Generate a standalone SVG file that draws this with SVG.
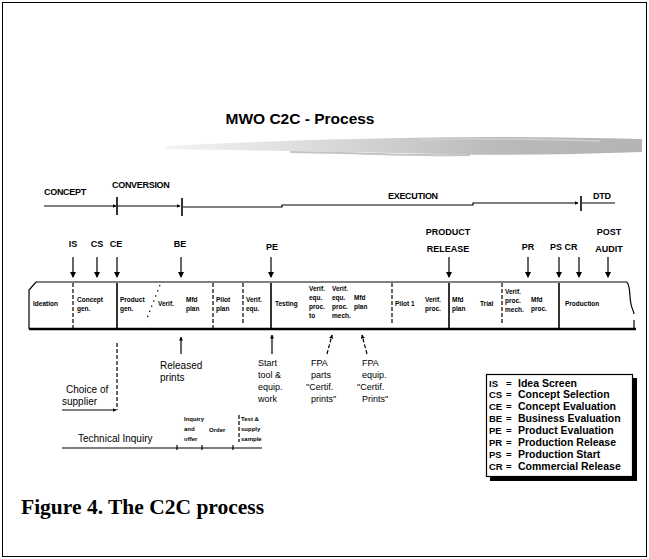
<svg xmlns="http://www.w3.org/2000/svg" width="649" height="559" viewBox="0 0 649 559">
<defs>
<marker id="ah" markerWidth="6" markerHeight="6" refX="5" refY="3" orient="auto" markerUnits="userSpaceOnUse"><path d="M0,0 L6,3 L0,6 Z" fill="#000"/></marker>
<marker id="sm" markerWidth="4" markerHeight="4" refX="3.5" refY="2" orient="auto" markerUnits="userSpaceOnUse"><path d="M0,0 L4,2 L0,4 Z" fill="#000"/></marker>
<linearGradient id="brush" x1="0" x2="1" y1="0" y2="0">
<stop offset="0" stop-color="#f4f4f4"/>
<stop offset="0.35" stop-color="#d8d8d8"/>
<stop offset="0.7" stop-color="#bababa"/>
<stop offset="1" stop-color="#b4b4b4"/>
</linearGradient>
<style>
.t{font-family:"Liberation Sans",Arial,sans-serif;fill:#000}
.ph{font-size:9px;font-weight:bold;letter-spacing:-0.3px}
.ev{font-size:9px;font-weight:bold}
.c{font-size:6.5px;font-weight:bold}
.s{font-size:6px;font-weight:bold}
.lb{font-size:10px}
.lm{font-size:9px}
.lg{font-size:10.5px;font-weight:bold}
.la{font-size:9.5px;font-weight:bold}
.ln{stroke:#000;stroke-width:1.2;fill:none}
.dash{stroke:#000;stroke-width:1.2;stroke-dasharray:4,2;fill:none}
.solid{stroke:#000;stroke-width:1.6;fill:none}
</style>
</defs>
<rect x="2.5" y="2.5" width="644" height="554" fill="#fff" stroke="#000" stroke-width="1"/>
<text class="t" x="300" y="124" font-size="15.5" font-weight="bold" text-anchor="middle">MWO C2C - Process</text>
<g id="brushstroke">
<path d="M165,146 C220,143 300,140 400,138 C480,136 560,137 642,139 L642,152 C560,155 480,156 400,153 C300,151 220,150 165,149 Z" fill="url(#brush)"/>
<path d="M290,152 C360,153 420,156 470,155" stroke="#c4c4c4" stroke-width="2" fill="none"/>
<path d="M420,140 C480,138 540,139 600,141" stroke="#cfcfcf" stroke-width="1.5" fill="none"/>
</g>
<g id="phases">
<text class="t ph" x="44" y="195">CONCEPT</text>
<text class="t ph" x="112" y="188">CONVERSION</text>
<text class="t ph" x="388" y="199">EXECUTION</text>
<text class="t ph" x="593" y="199">DTD</text>
</g>
<g id="connectors">
<line class="ln" x1="44" y1="206" x2="116" y2="206" marker-end="url(#sm)"/>
<line class="ln" x1="118" y1="206" x2="180" y2="206" marker-end="url(#sm)"/>
<polyline class="ln" points="183,207 282,207 282,205 473,205 473,203 578,203" marker-end="url(#sm)"/>
<line class="ln" x1="582" y1="203" x2="615" y2="203"/>
<line class="solid" x1="117" y1="197" x2="117" y2="215"/>
<line class="solid" x1="182" y1="198" x2="182" y2="216"/>
<line class="solid" x1="581" y1="196" x2="581" y2="211"/>
<line class="ln" x1="73" y1="257" x2="73" y2="277" marker-end="url(#ah)"/>
<line class="ln" x1="97" y1="257" x2="97" y2="277" marker-end="url(#ah)"/>
<line class="ln" x1="117" y1="257" x2="117" y2="277" marker-end="url(#ah)"/>
<line class="ln" x1="181" y1="257" x2="181" y2="277" marker-end="url(#ah)"/>
<line class="ln" x1="271" y1="257" x2="271" y2="277" marker-end="url(#ah)"/>
<line class="ln" x1="449" y1="257" x2="449" y2="277" marker-end="url(#ah)"/>
<line class="ln" x1="528" y1="257" x2="528" y2="277" marker-end="url(#ah)"/>
<line class="ln" x1="559" y1="257" x2="559" y2="277" marker-end="url(#ah)"/>
<line class="ln" x1="579" y1="257" x2="579" y2="277" marker-end="url(#ah)"/>
<line class="ln" x1="608" y1="257" x2="608" y2="277" marker-end="url(#ah)"/>
<line class="ln" x1="181" y1="354" x2="181" y2="337" marker-end="url(#sm)"/>
<line class="ln" x1="272" y1="354" x2="272" y2="335" marker-end="url(#sm)"/>
<line class="dash" x1="327" y1="354" x2="332" y2="335" marker-end="url(#sm)"/>
<line class="dash" x1="367" y1="354" x2="362" y2="335" marker-end="url(#sm)"/>
<line class="dash" x1="117" y1="343" x2="117" y2="410"/>
<line class="ln" x1="62" y1="410" x2="116" y2="410" marker-end="url(#sm)"/>
<line class="ln" x1="62" y1="448" x2="262" y2="448"/>
<line class="ln" x1="177" y1="445" x2="177" y2="450"/>
<line class="ln" x1="202" y1="445" x2="202" y2="450"/>
<line class="ln" x1="233" y1="445" x2="233" y2="450"/>
<line class="dash" x1="239" y1="415" x2="239" y2="442"/>
</g>
<g id="events">
<text class="t ev" x="73" y="247" text-anchor="middle">IS</text>
<text class="t ev" x="97" y="247" text-anchor="middle">CS</text>
<text class="t ev" x="116" y="247" text-anchor="middle">CE</text>
<text class="t ev" x="180" y="247" text-anchor="middle">BE</text>
<text class="t ev" x="272" y="250" text-anchor="middle">PE</text>
<text class="t ev" x="448" y="235" text-anchor="middle">PRODUCT</text>
<text class="t ev" x="448" y="252" text-anchor="middle">RELEASE</text>
<text class="t ev" x="528" y="250" text-anchor="middle">PR</text>
<text class="t ev" x="556" y="250" text-anchor="middle">PS</text>
<text class="t ev" x="571" y="250" text-anchor="middle">CR</text>
<text class="t ev" x="609" y="235" text-anchor="middle">POST</text>
<text class="t ev" x="609" y="252" text-anchor="middle">AUDIT</text>
</g>
<g id="processbar">
<path d="M36,282 L627,282 C633,290 630,300 633,312 L634,329 L29,329 L29,290 Z" fill="#fff" stroke="none"/>
<path d="M29,329 L29,290 L36,282 L627,282" class="ln" stroke-width="1.6"/>
<path d="M627,282 C631,288 629,296 631,304 C632,309 634,312 634,314" class="ln"/>
<line x1="634" y1="320" x2="634" y2="329" class="ln" stroke-width="1.6"/>
<line x1="29" y1="329" x2="636" y2="329" stroke="#000" stroke-width="2.4"/>
<line class="dash" x1="73" y1="283" x2="73" y2="328"/>
<line class="solid" x1="117" y1="283" x2="117" y2="328"/>
<line x1="160" y1="285" x2="146" y2="321" stroke="#000" stroke-width="1.2" stroke-dasharray="1.5,4"/>
<line class="dash" x1="213" y1="283" x2="213" y2="328"/>
<line class="dash" x1="243" y1="283" x2="243" y2="324"/>
<line class="solid" x1="271" y1="283" x2="271" y2="328"/>
<line class="dash" x1="392" y1="283" x2="392" y2="324"/>
<line class="solid" x1="449" y1="283" x2="449" y2="328"/>
<line class="dash" x1="502" y1="283" x2="502" y2="324"/>
<line class="solid" x1="559" y1="283" x2="559" y2="328"/>
<text class="t c" x="33" y="306">Ideation</text>
<text class="t c" x="77" y="302">Concept</text>
<text class="t c" x="77" y="311">gen.</text>
<text class="t c" x="120" y="302">Product</text>
<text class="t c" x="120" y="311">gen.</text>
<text class="t c" x="158" y="306">Verif.</text>
<text class="t c" x="186" y="302">Mfd</text>
<text class="t c" x="186" y="311">plan</text>
<text class="t c" x="216" y="302">Pilot</text>
<text class="t c" x="216" y="311">plan</text>
<text class="t c" x="246" y="302">Verif.</text>
<text class="t c" x="246" y="311">equ.</text>
<text class="t c" x="275" y="306">Testing</text>
<text class="t c" x="309" y="291">Verif.</text>
<text class="t c" x="309" y="300">equ.</text>
<text class="t c" x="309" y="309">proc.</text>
<text class="t c" x="309" y="318">to</text>
<text class="t c" x="332" y="291">Verif.</text>
<text class="t c" x="332" y="300">equ.</text>
<text class="t c" x="332" y="309">proc.</text>
<text class="t c" x="332" y="318">mech.</text>
<text class="t c" x="354" y="300">Mfd</text>
<text class="t c" x="354" y="309">plan</text>
<text class="t c" x="395" y="306">Pilot 1</text>
<text class="t c" x="425" y="302">Verif.</text>
<text class="t c" x="425" y="311">proc.</text>
<text class="t c" x="452" y="302">Mfd</text>
<text class="t c" x="452" y="311">plan</text>
<text class="t c" x="480" y="306">Trial</text>
<text class="t c" x="505" y="294">Verif.</text>
<text class="t c" x="505" y="303">proc.</text>
<text class="t c" x="505" y="312">mech.</text>
<text class="t c" x="531" y="302">Mfd</text>
<text class="t c" x="531" y="311">proc.</text>
<text class="t c" x="565" y="306">Production</text>
</g>
<g id="notes">
<text class="t lb" x="160" y="369">Released</text>
<text class="t lb" x="160" y="381">prints</text>
<text class="t lm" x="258" y="366">Start</text>
<text class="t lm" x="258" y="378">tool &amp;</text>
<text class="t lm" x="258" y="390">equip.</text>
<text class="t lm" x="258" y="402">work</text>
<text class="t lm" x="311" y="366">FPA</text>
<text class="t lm" x="311" y="378">parts</text>
<text class="t lm" x="306" y="390">"Certif.</text>
<text class="t lm" x="311" y="402">prints"</text>
<text class="t lm" x="362" y="366">FPA</text>
<text class="t lm" x="362" y="378">equip.</text>
<text class="t lm" x="357" y="390">"Certif.</text>
<text class="t lm" x="362" y="402">Prints"</text>
<text class="t lb" x="66" y="393">Choice of</text>
<text class="t lb" x="62" y="405">supplier</text>
<text class="t lb" x="78" y="442">Technical Inquiry</text>
<text class="t s" x="184" y="421">Inquiry</text>
<text class="t s" x="184" y="431">and</text>
<text class="t s" x="184" y="441">offer</text>
<text class="t s" x="209" y="432">Order</text>
<text class="t s" x="241" y="421">Test &amp;</text>
<text class="t s" x="241" y="431">supply</text>
<text class="t s" x="241" y="441">sample</text>
</g>
<g id="legend">
<rect x="490" y="378" width="147" height="103" fill="#000"/>
<rect x="486.5" y="374.5" width="146" height="102" fill="#fff" stroke="#000" stroke-width="1.2"/>
<text class="t la" x="489" y="387">IS</text><text class="t la" x="506" y="387">=</text><text class="t lg" x="518" y="387">Idea Screen</text>
<text class="t la" x="489" y="398">CS</text><text class="t la" x="506" y="398">=</text><text class="t lg" x="518" y="398">Concept Selection</text>
<text class="t la" x="489" y="410">CE</text><text class="t la" x="506" y="410">=</text><text class="t lg" x="518" y="410">Concept Evaluation</text>
<text class="t la" x="489" y="422">BE</text><text class="t la" x="506" y="422">=</text><text class="t lg" x="518" y="422">Business Evaluation</text>
<text class="t la" x="489" y="434">PE</text><text class="t la" x="506" y="434">=</text><text class="t lg" x="518" y="434">Product Evaluation</text>
<text class="t la" x="489" y="446">PR</text><text class="t la" x="506" y="446">=</text><text class="t lg" x="518" y="446">Production Release</text>
<text class="t la" x="489" y="458">PS</text><text class="t la" x="506" y="458">=</text><text class="t lg" x="518" y="458">Production Start</text>
<text class="t la" x="489" y="470">CR</text><text class="t la" x="506" y="470">=</text><text class="t lg" x="518" y="470">Commercial Release</text>
</g>
<text x="21" y="514" font-family="'Liberation Serif','Times New Roman',serif" font-size="21.5" font-weight="bold" fill="#000">Figure 4. The C2C process</text>
</svg>
